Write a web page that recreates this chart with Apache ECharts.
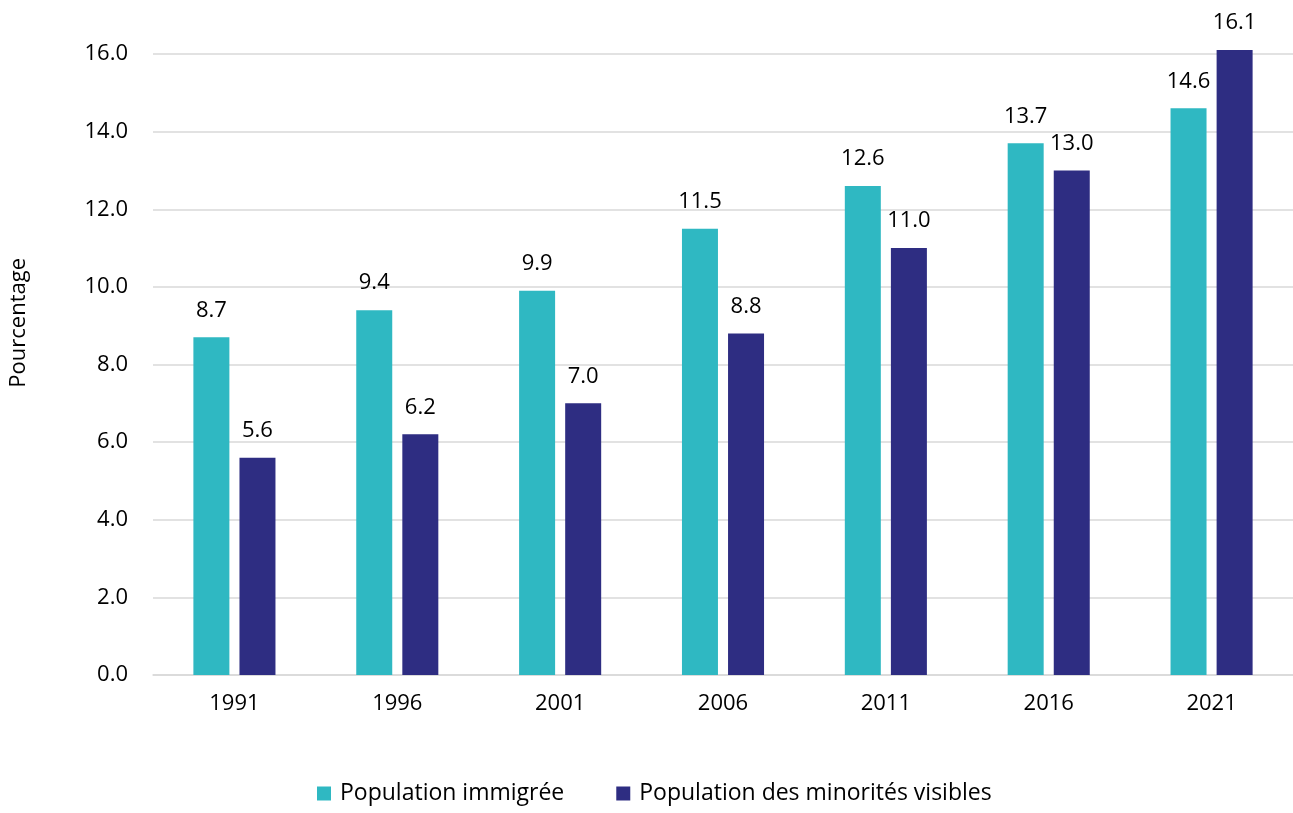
<!DOCTYPE html>
<html>
<head>
<meta charset="utf-8">
<script src="https://cdn.jsdelivr.net/npm/echarts@6/dist/echarts.min.js"></script>
<style>
    html, body { margin: 0; padding: 0; background: #fff; }
    #chart { width: 1293px; height: 813px; }
</style>
</head>
<body>
<div id="chart"></div>
<script>
// années du recensement
const years = ["1991", "1996", "2001", "2006", "2011", "2016", "2021"];
const immigrants = [8.7, 9.4, 9.9, 11.5, 12.6, 13.7, 14.6];
const minorities = [5.6, 6.2, 7.0, 8.8, 11.0, 13.0, 16.1];
const seriesNames = ["Population immigrée", "Population des minorités visibles"];

const font = "'Open Sans', sans-serif";

const chart = echarts.init(document.getElementById("chart"));

const labelStyle = {
    show: true,
    position: "top",
    distance: 16,
    color: "#000",
    fontSize: 22,
    fontFamily: font,
    formatter: (p) => p.value.toFixed(1),
};

const option = {
    animation: false,
    backgroundColor: "#fff",
    grid: {
        left: 153,
        top: 54,
        width: 1143,
        height: 621,
    },
    legend: {
        bottom: 3,
        left: 312,
        itemWidth: 14,
        itemHeight: 14,
        itemGap: 52,
        icon: "rect",
        textStyle: {
            color: "#000",
            fontSize: 23,
            fontFamily: font,
            padding: [0, 0, 0, 4],
        },
        data: seriesNames,
    },
    graphic: [
        {
            type: "text",
            left: 8,
            top: 258,
            rotation: Math.PI / 2,
            style: {
                text: "Pourcentage",
                fill: "#000",
                fontSize: 22,
                fontFamily: font,
            },
        },
    ],
    xAxis: {
        type: "category",
        data: years,
        axisTick: { show: false },
        axisLine: { lineStyle: { color: "#d9d9d9", width: 1.5 } },
        axisLabel: {
            color: "#000",
            fontSize: 22,
            fontFamily: font,
            margin: 18,
        },
    },
    yAxis: {
        type: "value",
        min: 0,
        max: 16,
        interval: 2,
        axisLine: { show: false },
        axisTick: { show: false },
        axisLabel: {
            color: "#000",
            fontSize: 22,
            fontFamily: font,
            margin: 25,
            formatter: (v) => v.toFixed(1),
        },
        splitLine: { lineStyle: { color: "#d9d9d9", width: 1.5 } },
    },
    series: [
        {
            name: seriesNames[0],
            type: "bar",
            data: immigrants,
            barWidth: 36,
            barGap: "28%",
            clip: false,
            itemStyle: { color: "#2fb8c2" },
            label: labelStyle,
        },
        {
            name: seriesNames[1],
            type: "bar",
            data: minorities,
            barWidth: 36,
            clip: false,
            itemStyle: { color: "#2e2d82" },
            label: labelStyle,
        },
    ],
};

chart.setOption(option);
</script>
</body>
</html>
